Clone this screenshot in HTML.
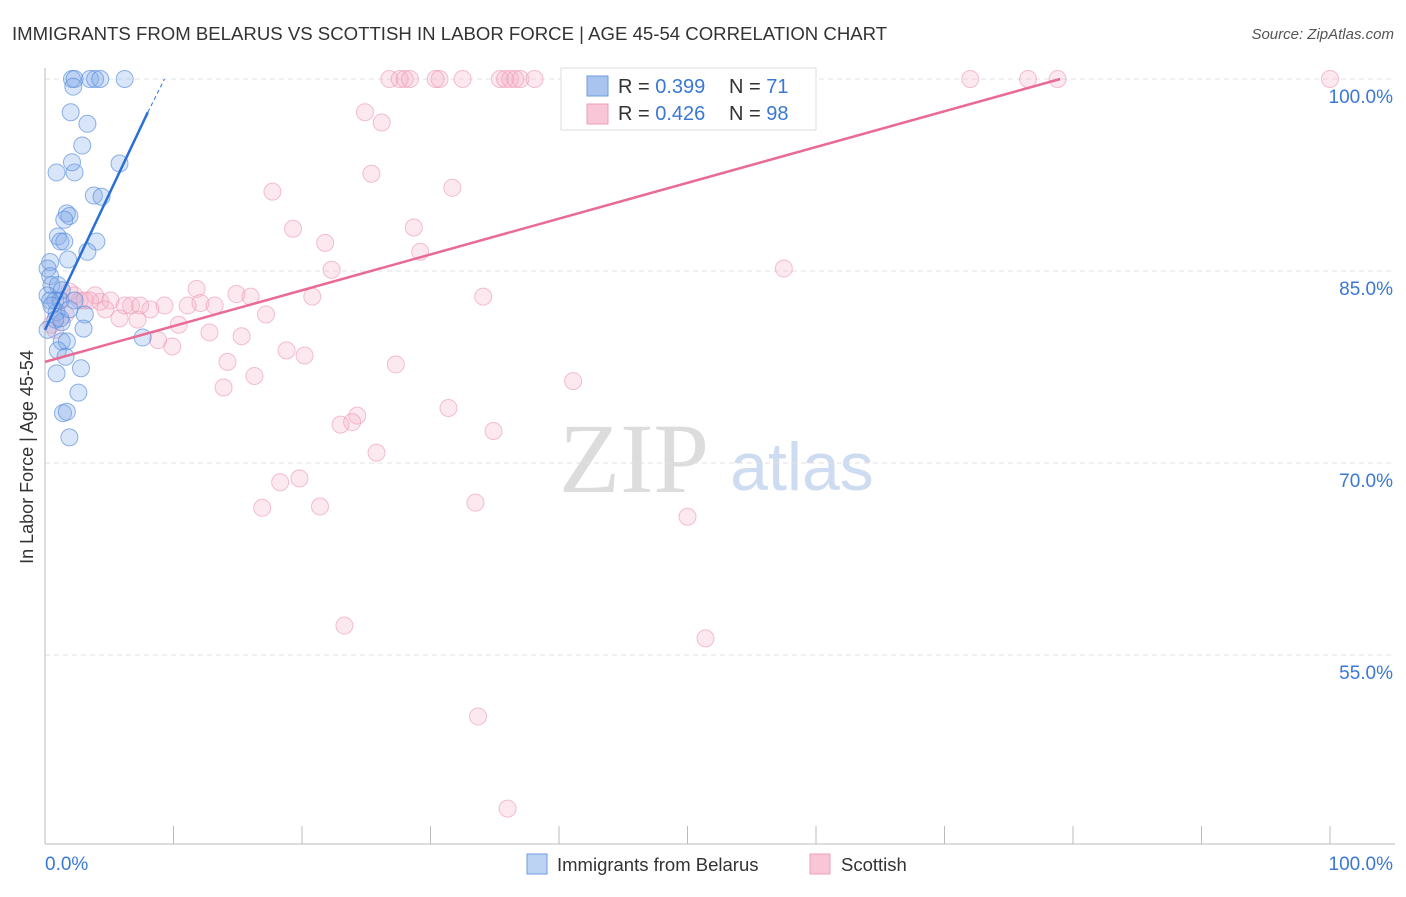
<!DOCTYPE html>
<html><head><meta charset="utf-8"><style>
body{margin:0;background:#fff;font-family:"Liberation Sans",sans-serif;}
</style></head><body>
<svg id="chart" width="1406" height="892" font-family="Liberation Sans, sans-serif">
<text x="12" y="40" font-size="18.6" fill="#333">IMMIGRANTS FROM BELARUS VS SCOTTISH IN LABOR FORCE | AGE 45-54 CORRELATION CHART</text>
<text x="1394" y="39" font-size="15" fill="#555" font-style="italic" text-anchor="end">Source: ZipAtlas.com</text>
<text x="634" y="492" font-size="100" fill="#dcdcdc" style="font-family:'Liberation Serif',serif" text-anchor="middle">ZIP</text>
<text x="802" y="490" font-size="68" fill="#cddcf1" text-anchor="middle">atlas</text>
<g id="grid"></g><g id="axes"></g><g id="pts"></g><g id="lines"></g>
<text transform="translate(33,457) rotate(-90)" font-size="18" fill="#333" text-anchor="middle">In Labor Force | Age 45-54</text>
<g>
<rect x="561" y="68" width="255" height="62" fill="#fff" stroke="#ddd"/>
<rect x="587" y="76" width="21" height="20" fill="#a9c4ee" stroke="#6f9be0"/>
<rect x="587" y="104" width="21" height="20" fill="#f8c6d6" stroke="#eba0b9"/>
<text x="618" y="93" font-size="20" fill="#333">R = <tspan fill="#3a78d4">0.399</tspan></text>
<text x="729" y="93" font-size="20" fill="#333">N = <tspan fill="#3a78d4"> 71</tspan></text>
<text x="618" y="120" font-size="20" fill="#333">R = <tspan fill="#3a78d4">0.426</tspan></text>
<text x="729" y="120" font-size="20" fill="#333">N = <tspan fill="#3a78d4">98</tspan></text>
</g>
<g>
<rect x="527" y="854" width="20" height="20" fill="#bcd3f3" stroke="#6f9be0"/>
<text x="557" y="871" font-size="18.5" fill="#333">Immigrants from Belarus</text>
<rect x="810" y="854" width="20" height="20" fill="#f8c6d6" stroke="#eba0b9"/>
<text x="841" y="871" font-size="18.5" fill="#333">Scottish</text>
</g>
</svg>
<script>
const yTicks=[100,85,70,55];
const yTickLabels=["100.0%","85.0%","70.0%","55.0%"];
const xEndLabels=["0.0%","100.0%"];
const blueX=[2.1,2.3,3.5,3.9,4.3,6.2,2.2,2.0,3.3,2.9,0.9,2.3,2.1,5.8,3.8,4.4,1.7,1.9,1.5,1.0,1.2,1.5,4.0,3.3,1.8,0.4,0.2,0.4,0.5,1.0,1.3,0.2,0.8,1.2,0.9,1.3,1.2,3.1,3.0,7.6,1.3,1.7,1.0,1.6,0.9,2.8,2.6,1.4,1.7,1.9,0.4,0.5,0.8,0.2,2.3,1.9];
const blueY=[100,100,100,100,100,100,99.4,97.4,96.5,94.8,92.7,92.7,93.5,93.4,90.9,90.8,89.5,89.3,89.0,87.7,87.3,87.3,87.3,86.5,85.9,85.7,85.2,84.6,83.9,83.9,83.5,83.1,82.7,82.7,81.8,81.0,81.3,81.6,80.5,79.8,79.5,79.5,78.8,78.3,77.0,77.4,75.5,73.9,74.0,72.0,82.7,82.3,81.2,80.4,82.7,82.0];
const pinkX=[26.8,27.6,28.0,28.4,30.4,30.7,32.5,35.4,35.8,36.2,36.6,37.0,38.1,40.9,45.1,47.9,48.2,52.4,53.3,53.7,58.8,72.0,76.5,78.8,100,24.9,26.2,25.4,17.7,31.7,19.3,28.7,21.8,29.2,22.3,57.5,34.1,20.8,11.8,14.9,16.0,12.1,13.2,11.1,9.3,8.2,6.7,5.8,4.3,3.9,2.7,2.3,1.9,3.1,1.2,0.8,17.2,7.2,10.4,12.8,15.3,8.8,9.9,18.8,20.2,14.2,27.3,16.3,13.9,41.1,31.4,24.3,23.0,23.9,34.9,25.8,19.8,18.3,16.9,21.4,33.5,50.0,23.3,51.4,33.7,36.0,5.1,4.7,1.6,0.5,7.4,6.2,3.5];
const pinkY=[100,100,100,100,100,100,100,100,100,100,100,100,100,100,100,100,100,100,100,100,100,100,100,100,100,97.4,96.6,92.6,91.2,91.5,88.3,88.4,87.2,86.5,85.1,85.2,83.0,83.0,83.6,83.2,83.0,82.5,82.3,82.3,82.3,82.0,82.3,81.3,82.6,83.1,82.7,83.1,83.4,82.7,82.7,80.4,81.6,81.2,80.8,80.2,79.9,79.6,79.1,78.8,78.4,77.9,77.7,76.8,75.9,76.4,74.3,73.7,73.0,73.2,72.5,70.8,68.8,68.5,66.5,66.6,66.9,65.8,57.3,56.3,50.2,43.0,82.7,82.0,81.6,80.8,82.3,82.3,82.7];
const blueTrend=[0,80.4,8.0,97.4,9.3,100];
const pinkTrend=[0,77.9,79,100];
const NS="http://www.w3.org/2000/svg";
const X=v=>45+v*12.85, Y=v=>79+(100-v)*12.8;
function mk(t,a,p){const e=document.createElementNS(NS,t);for(const k in a)e.setAttribute(k,a[k]);document.getElementById(p).appendChild(e);return e;}
yTicks.forEach((t,i)=>{
 const g=mk('line',{x1:45,x2:1395,y1:Y(t),y2:Y(t),stroke:'#e2e2e2','stroke-dasharray':'5,4'},'grid');
 
 
 const l=mk('text',{x:1393,y:Y(t)+24,'font-size':19,fill:'#3a78d4','text-anchor':'end'},'axes');
 l.textContent=yTickLabels[i];
 
 
});
const ax=mk('line',{x1:45,x2:45,y1:68,y2:844,stroke:'#bbb'},'axes');


const bx=mk('line',{x1:45,x2:1395,y1:844,y2:844,stroke:'#bbb'},'axes');


for(let i=1;i<=10;i++){
 const t=mk('line',{x1:X(i*10),x2:X(i*10),y1:826,y2:844,stroke:'#bbb'},'axes');
 
 
}
[[0,'start',45],[100,'end',1393]].forEach((d,i)=>{
 const t=mk('text',{x:d[2],y:870,'font-size':19,fill:'#3a78d4','text-anchor':d[1]},'axes');
 t.textContent=xEndLabels[i];
 
 
});
pinkX.forEach((x,i)=>{
 const c=mk('circle',{cx:X(x),cy:Y(pinkY[i]),r:8.5,fill:'rgba(246,175,198,0.28)',stroke:'rgba(236,150,180,0.6)','stroke-width':1},'pts');
 
 
});
blueX.forEach((x,i)=>{
 const c=mk('circle',{cx:X(x),cy:Y(blueY[i]),r:8.5,fill:'rgba(130,170,232,0.3)',stroke:'rgba(85,140,220,0.65)','stroke-width':1},'pts');
 
 
});
const bl=mk('line',{x1:X(blueTrend[0]),y1:Y(blueTrend[1]),x2:X(blueTrend[2]),y2:Y(blueTrend[3]),stroke:'#2a6fd6','stroke-width':2.5},'lines');


const bd=mk('line',{x1:X(blueTrend[2]),y1:Y(blueTrend[3]),x2:X(blueTrend[4]),y2:Y(blueTrend[5]),stroke:'#2a6fd6','stroke-width':1,'stroke-dasharray':'4,3'},'lines');


const pl=mk('line',{x1:X(pinkTrend[0]),y1:Y(pinkTrend[1]),x2:X(pinkTrend[2]),y2:Y(pinkTrend[3]),stroke:'#e86a95','stroke-width':2.5},'lines');


</script>
</body></html>
